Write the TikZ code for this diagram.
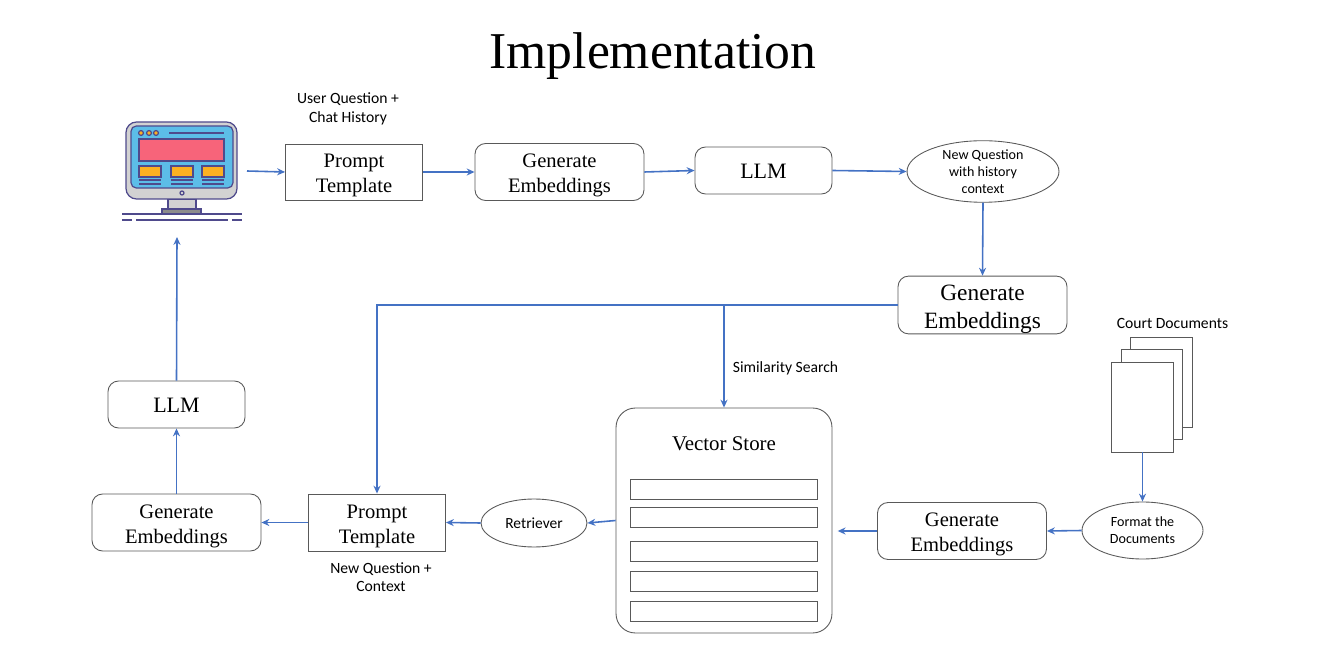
\documentclass[tikz,border=0pt]{standalone}
\usepackage{fontspec}
\setmainfont{Liberation Serif}
\newfontfamily\lblfont{Carlito}
\usetikzlibrary{arrows.meta,shapes.geometric}
\definecolor{connblue}{HTML}{4472C4}
\definecolor{edgegray}{HTML}{595959}
\definecolor{monline}{HTML}{4F4A8C}
\definecolor{monscreen}{HTML}{5CBDE8}
\definecolor{monred}{HTML}{F7647A}
\definecolor{monorange}{HTML}{FBB022}
\definecolor{mongray}{HTML}{D2D2D2}
\tikzset{
  conn/.style={draw=connblue,line width=0.9pt,-{Stealth[length=4.5pt,width=4pt]}},
  boxtext/.style={align=center,inner ysep=0pt,font=\fontsize{11.7}{14.2}\selectfont,text height=26pt},
  roundbox/.style={draw=edgegray,rounded corners=6pt,line width=0.5pt,boxtext},
  sqbox/.style={draw=edgegray,line width=0.5pt,boxtext,minimum width=2.74cm,minimum height=1.14cm},
  genbox/.style={roundbox,minimum width=3.38cm,minimum height=1.14cm},
  llmbox/.style={roundbox,minimum width=2.74cm,minimum height=0.94cm,text height=9.6pt},
  oval/.style={ellipse,draw=edgegray,line width=0.5pt,align=center,inner sep=0pt},
  lbl/.style={align=center,font=\lblfont\fontsize{8.9}{10.6}\selectfont},
  rowbox/.style={draw=edgegray,line width=0.5pt,minimum width=3.74cm,minimum height=0.4cm},
  docbox/.style={draw=edgegray,fill=white,line width=0.5pt,minimum width=1.23cm,minimum height=1.8cm},
  monstroke/.style={draw=monline,line width=0.7pt}
}
\begin{document}
\begin{tikzpicture}[x=0.02cm,y=-0.02cm]
\useasboundingbox (0,0) rectangle (1318,651);
\node[font=\fontsize{29.4}{34}\selectfont] (title) at (653,56) {Implementation};
% monitor
\filldraw[monstroke,fill=mongray] (168,199) rectangle (196,209);
\filldraw[monstroke,fill=black!45] (162,209) rectangle (201,214);
\filldraw[monstroke,fill=mongray,rounded corners=6pt] (126,122) rectangle (237,199);
\filldraw[monstroke,fill=monscreen,rounded corners=3pt] (131,126) rectangle (233,188);
\filldraw[monstroke,fill=monred] (139,139) rectangle (224,161);
\foreach \x in {139,171,202}{
  \filldraw[monstroke,fill=monorange] (\x,166) rectangle (\x+22,177);
  \draw[monstroke] (\x,180) -- (\x+22,180);
  \draw[monstroke] (\x,184) -- (\x+22,184);
}
\foreach \x in {141,149,156}{
  \filldraw[monstroke,fill=monorange] (\x,133) circle (2.4);
}
\draw[monstroke] (169,133) -- (224,133);
\draw[monstroke] (182,193) circle (2);
\draw[monstroke] (122,214) -- (242,214);
\foreach \a/\b in {122/132,136/228,232/242}{
  \draw[monstroke] (\a,220) -- (\b,220);
}
\coordinate (monright) at (247,171);
\coordinate (monbottom) at (177,237);
% top row
\node[sqbox,minimum height=1.12cm] (pt1) at (354,172) {Prompt\\Template};
\node[genbox] (ge1) at (559.5,172) {Generate\\Embeddings};
\node[llmbox,font=\fontsize{12.5}{14.2}\selectfont] (llm1) at (763.5,170.5) {LLM};
\node[oval,minimum width=3.04cm,minimum height=1.22cm,font=\lblfont\fontsize{8}{9.6}\selectfont] (newq) at (983,171.5) {New Question\\with history\\context};
\node[lbl] (uq) at (348,109) {User Question +\\Chat History};
% middle
\node[genbox,font=\fontsize{13.3}{16}\selectfont,text height=30pt] (ge2) at (982.5,305) {Generate\\Embeddings};
\node[llmbox,font=\fontsize{12.5}{14.2}\selectfont] (llm2) at (176.5,404.5) {LLM};
\node[lbl] (simlbl) at (785.5,368) {Similarity Search};
% vector store
\node[draw=edgegray,line width=0.5pt,rounded corners=11pt,minimum width=4.32cm,minimum height=4.5cm] (vs) at (724,520.5) {};
\node[font=\fontsize{11.9}{14}\selectfont] (vstitle) at (724,444) {Vector Store};
\foreach \y/\nm in {489/a,517/b,551/c,581/d,611/e}{
  \node[rowbox] (row\nm) at (724,\y) {};
}
% documents
\node[docbox] (docback) at (1161.5,382) {};
\node[docbox] (docmid) at (1152,394) {};
\node[docbox] (docfront) at (1142.5,407) {};
\node[lbl] (courtlbl) at (1172.5,323.5) {Court Documents};
\node[oval,minimum width=2.42cm,minimum height=1.14cm,font=\lblfont\fontsize{8}{9.6}\selectfont] (fmt) at (1142.5,530.5) {Format the\\Documents};
\node[genbox] (ge3) at (962,531) {Generate\\Embeddings};
% bottom row
\node[oval,minimum width=2.12cm,minimum height=0.96cm,font=\lblfont\fontsize{8.8}{10}\selectfont] (ret) at (534,523) {Retriever};
\node[sqbox] (pt2) at (377,522.5) {Prompt\\Template};
\node[genbox] (ge4) at (176.5,522.5) {Generate\\Embeddings};
\node[lbl] (nqlbl) at (381,577) {New Question +\\Context};
% connectors
\draw[conn] (monright) -- (pt1.west);
\draw[conn] (pt1.east) -- (ge1.west);
\draw[conn] (ge1.east) -- (llm1.west);
\draw[conn] (llm1.east) -- (newq.west);
\draw[conn] (newq.south) -- (ge2.north);
\draw[conn] (ge2.west) -| (vs.north);
\draw[conn] (ge2.west) -| (pt2.north);
\draw[conn] (docfront.south) -- (fmt.north);
\draw[conn] (fmt.west) -- (ge3.east);
\draw[conn,shorten >=3pt] (ge3.west) -- (vs.east |- ge3.west);
\draw[conn] (vs.west) -- (ret.east);
\draw[conn] (ret.west) -- (pt2.east);
\draw[conn] (pt2.west) -- (ge4.east);
\draw[conn] (ge4.north) -- (llm2.south);
\draw[conn] (llm2.north) -- (monbottom);
\end{tikzpicture}
\end{document}
